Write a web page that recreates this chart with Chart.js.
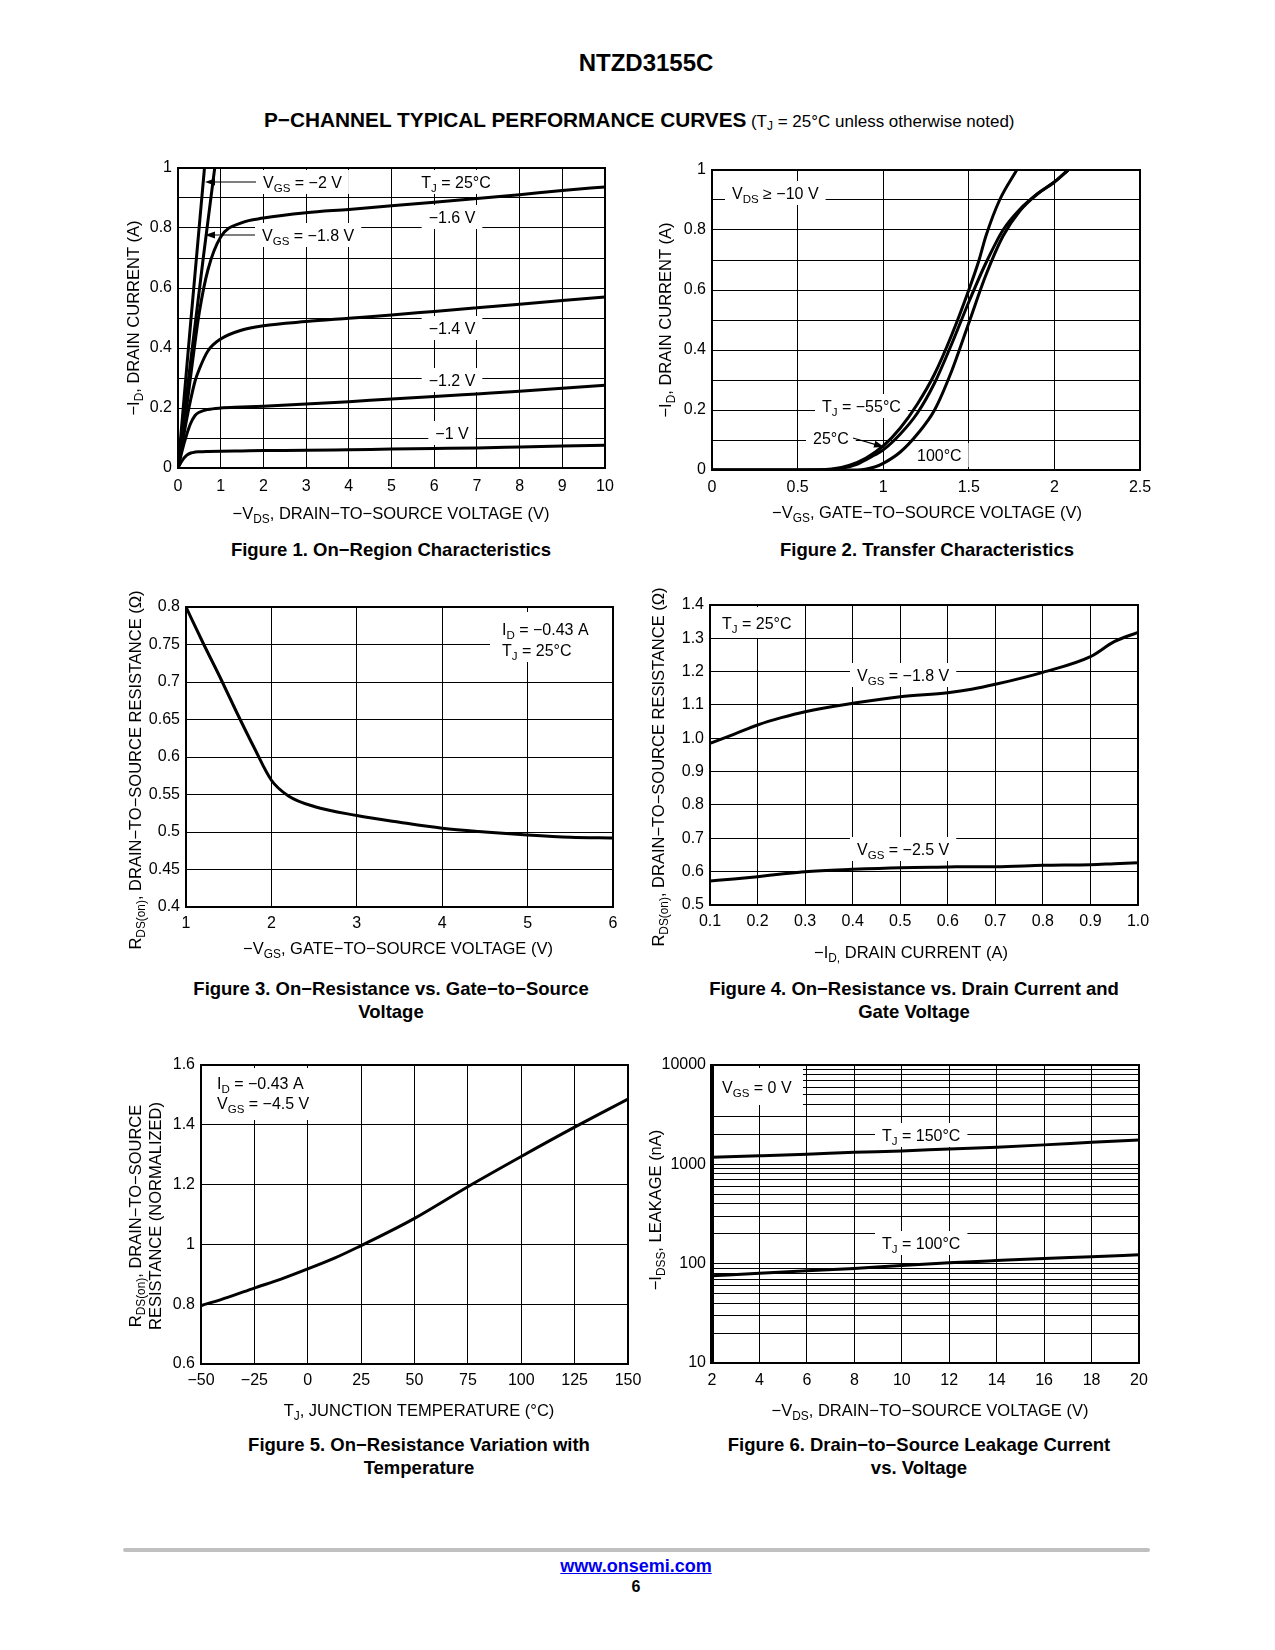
<!DOCTYPE html>
<html>
<head>
<meta charset="utf-8">
<script src="https://cdn.jsdelivr.net/npm/chart.js@4.4.0/dist/chart.umd.min.js"></script>
<style>
body { margin: 0; background: #fff; }
#page { position: relative; width: 1275px; height: 1650px; font-family: "Liberation Sans", Arial, Helvetica, sans-serif; color: #000; overflow: hidden; }
#page canvas { position: absolute; }
.txt { position: absolute; white-space: nowrap; }
.cap { position: absolute; width: 600px; text-align: center; font-weight: bold; font-size: 18.5px; line-height: 23px; }
sub { font-size: 0.7em; vertical-align: -0.25em; line-height: 0; }
</style>
</head>
<body>
<div id="page">
  <div class="txt" style="left:346px;width:600px;text-align:center;top:50px;font-size:24px;font-weight:bold;line-height:26px;">NTZD3155C</div>
  <div class="txt" style="left:264px;top:108px;line-height:24px;"><span style="font-weight:bold;font-size:20.8px;">P−CHANNEL TYPICAL PERFORMANCE CURVES</span> <span style="font-size:17px;">(T<sub>J</sub> = 25°C unless otherwise noted)</span></div>

  <canvas id="fig1"></canvas>
  <canvas id="fig2"></canvas>
  <canvas id="fig3"></canvas>
  <canvas id="fig4"></canvas>
  <canvas id="fig5"></canvas>
  <canvas id="fig6"></canvas>

  <div class="cap" style="left:91px;top:538px;">Figure 1. On−Region Characteristics</div>
  <div class="cap" style="left:627px;top:538px;">Figure 2. Transfer Characteristics</div>
  <div class="cap" style="left:91px;top:977px;">Figure 3. On−Resistance vs. Gate−to−Source<br>Voltage</div>
  <div class="cap" style="left:614px;top:977px;">Figure 4. On−Resistance vs. Drain Current and<br>Gate Voltage</div>
  <div class="cap" style="left:119px;top:1433px;">Figure 5. On−Resistance Variation with<br>Temperature</div>
  <div class="cap" style="left:619px;top:1433px;">Figure 6. Drain−to−Source Leakage Current<br>vs. Voltage</div>

  <div style="position:absolute;left:123px;top:1548px;width:1027px;height:4px;background:#c0c0c0;border-radius:2px;"></div>
  <div class="txt" style="left:336px;width:600px;text-align:center;top:1556px;font-size:18px;font-weight:bold;line-height:20px;"><a href="#" style="color:#0000ee;text-decoration:underline;">www.onsemi.com</a></div>
  <div class="txt" style="left:336px;width:600px;text-align:center;top:1578px;font-size:16px;font-weight:bold;line-height:18px;">6</div>
</div>

<script>
// ---- Figure 1: On-region characteristics (-VDS in V, -ID in A) ----
const fig1Vds = [0, 0.1, 0.2, 0.3, 0.4, 0.5, 0.7, 1, 1.5, 2, 3, 4, 5, 6, 7, 8, 9, 10];
const fig1Id10 = [0, 0.025, 0.042, 0.05, 0.053, 0.054, 0.055, 0.056, 0.057, 0.058, 0.059, 0.061, 0.063, 0.065, 0.067, 0.07, 0.073, 0.076];
const fig1Id12 = [0, 0.06, 0.11, 0.15, 0.175, 0.186, 0.195, 0.2, 0.203, 0.206, 0.213, 0.221, 0.23, 0.238, 0.247, 0.256, 0.266, 0.276];
const fig1Id14 = [0, 0.08, 0.16, 0.23, 0.29, 0.33, 0.39, 0.43, 0.46, 0.474, 0.488, 0.499, 0.51, 0.522, 0.534, 0.546, 0.558, 0.57];
const fig1Id16 = [0, 0.1, 0.2, 0.31, 0.42, 0.52, 0.66, 0.77, 0.818, 0.833, 0.851, 0.862, 0.874, 0.886, 0.898, 0.911, 0.925, 0.937];
const fig1Vds18 = [0, 0.3, 0.6, 0.86];
const fig1Id18 = [0, 0.36, 0.71, 1.0];
const fig1Vds20 = [0, 0.3, 0.62];
const fig1Id20 = [0, 0.49, 1.0];
const fig1XTicks = [0, 1, 2, 3, 4, 5, 6, 7, 8, 9, 10];
const fig1XLabels = ['0', '1', '2', '3', '4', '5', '6', '7', '8', '9', '10'];
const fig1YTicks = [0, 0.1, 0.2, 0.3, 0.4, 0.5, 0.6, 0.7, 0.8, 0.9, 1];
const fig1YLabels = ['0', '', '0.2', '', '0.4', '', '0.6', '', '0.8', '', '1'];

// ---- Figure 2: Transfer characteristics (-VGS in V, -ID in A) ----
const fig2VgsM55 = [0, 0.5, 0.7, 0.8, 0.9, 1.0, 1.1, 1.2, 1.3, 1.4, 1.5, 1.56, 1.6, 1.68, 1.78];
const fig2IdM55 = [0, 0, 0.003, 0.015, 0.04, 0.08, 0.14, 0.22, 0.32, 0.45, 0.6, 0.7, 0.78, 0.9, 1.0];
const fig2Vgs25 = [0, 0.6, 0.75, 0.85, 0.95, 1.0, 1.1, 1.2, 1.3, 1.4, 1.5, 1.6, 1.7, 1.8, 1.9, 2.0, 2.08];
const fig2Id25 = [0, 0, 0.005, 0.02, 0.05, 0.067, 0.12, 0.19, 0.29, 0.42, 0.56, 0.69, 0.8, 0.87, 0.92, 0.96, 1.0];
const fig2Vgs100 = [0, 0.85, 0.95, 1.0, 1.1, 1.2, 1.3, 1.4, 1.5, 1.6, 1.7, 1.8, 1.9, 2.0, 2.08];
const fig2Id100 = [0, 0, 0.01, 0.022, 0.06, 0.12, 0.2, 0.33, 0.49, 0.65, 0.78, 0.865, 0.92, 0.96, 1.0];
const fig2XTicks = [0, 0.5, 1, 1.5, 2, 2.5];
const fig2XLabels = ['0', '0.5', '1', '1.5', '2', '2.5'];

// ---- Figure 3: On-resistance vs gate-to-source voltage ----
const fig3Vgs = [1, 1.2, 1.4, 1.6, 1.8, 2.0, 2.2, 2.5, 3, 3.5, 4, 4.5, 5, 5.5, 6];
const fig3Rds = [0.8, 0.752, 0.706, 0.658, 0.612, 0.569, 0.548, 0.534, 0.522, 0.513, 0.505, 0.5, 0.496, 0.493, 0.492];
const fig3XTicks = [1, 2, 3, 4, 5, 6];
const fig3XLabels = ['1', '2', '3', '4', '5', '6'];
const fig3YTicks = [0.4, 0.45, 0.5, 0.55, 0.6, 0.65, 0.7, 0.75, 0.8];
const fig3YLabels = ['0.4', '0.45', '0.5', '0.55', '0.6', '0.65', '0.7', '0.75', '0.8'];

// ---- Figure 4: On-resistance vs drain current and gate voltage ----
const fig4Id = [0.1, 0.15, 0.2, 0.25, 0.3, 0.4, 0.5, 0.6, 0.65, 0.7, 0.8, 0.9, 0.95, 1.0];
const fig4Rds18 = [0.985, 1.012, 1.04, 1.062, 1.08, 1.105, 1.125, 1.137, 1.147, 1.162, 1.198, 1.245, 1.29, 1.318];
const fig4Rds25 = [0.572, 0.578, 0.585, 0.593, 0.6, 0.607, 0.612, 0.614, 0.615, 0.615, 0.619, 0.621, 0.624, 0.627];
const fig4XTicks = [0.1, 0.2, 0.3, 0.4, 0.5, 0.6, 0.7, 0.8, 0.9, 1.0];
const fig4XLabels = ['0.1', '0.2', '0.3', '0.4', '0.5', '0.6', '0.7', '0.8', '0.9', '1.0'];
const fig4YTicks = [0.5, 0.6, 0.7, 0.8, 0.9, 1.0, 1.1, 1.2, 1.3, 1.4];
const fig4YLabels = ['0.5', '0.6', '0.7', '0.8', '0.9', '1.0', '1.1', '1.2', '1.3', '1.4'];

// ---- Figure 5: On-resistance variation with temperature (normalized) ----
const fig5Tj = [-50, -37.5, -25, -12.5, 0, 12.5, 25, 37.5, 50, 75, 100, 125, 150];
const fig5Rds = [0.795, 0.823, 0.854, 0.884, 0.918, 0.954, 0.996, 1.04, 1.087, 1.193, 1.294, 1.392, 1.486];
const fig5XTicks = [-50, -25, 0, 25, 50, 75, 100, 125, 150];
const fig5XLabels = ['−50', '−25', '0', '25', '50', '75', '100', '125', '150'];
const fig5YTicks = [0.6, 0.8, 1, 1.2, 1.4, 1.6];
const fig5YLabels = ['0.6', '0.8', '1', '1.2', '1.4', '1.6'];

// ---- Figure 6: Drain-to-source leakage current vs voltage (nA) ----
const fig6Vds = [2, 4, 6, 8, 10, 12, 14, 16, 18, 20];
const fig6Idss150 = [1180, 1220, 1265, 1320, 1365, 1430, 1490, 1570, 1665, 1760];
const fig6Idss100 = [75.5, 80, 85, 89.5, 96, 102, 107.5, 113, 117.5, 123];
const fig6XTicks = [2, 4, 6, 8, 10, 12, 14, 16, 18, 20];
const fig6XLabels = ['2', '4', '6', '8', '10', '12', '14', '16', '18', '20'];
const fig6Decades = [10, 100, 1000, 10000];

const FONT = '"Liberation Sans", Arial, Helvetica, sans-serif';
const TICK_SIZE = 16;
const TITLE_SIZE = 16.5;
const NOTE_SIZE = 16;

// log grid: 1..9 x each decade, label only the decades
const fig6YTicks = [];
const fig6YLabels = [];
fig6Decades.forEach((d, i) => {
    const last = i === fig6Decades.length - 1;
    for (let k = 1; k <= (last ? 1 : 9); k++) {
        fig6YTicks.push(d * k);
        fig6YLabels.push(k === 1 ? String(d) : '');
    }
});

// "_{...}" marks a subscript
function richParts(str) {
    const parts = [];
    const re = /_\{([^}]*)\}/g;
    let last = 0, m;
    while ((m = re.exec(str))) {
        if (m.index > last) parts.push({ t: str.slice(last, m.index), sub: false });
        parts.push({ t: m[1], sub: true });
        last = re.lastIndex;
    }
    if (last < str.length) parts.push({ t: str.slice(last), sub: false });
    return parts;
}

function partFont(p, size) {
    return (p.sub ? size * 0.72 : size) + 'px ' + FONT;
}

function richWidth(ctx, str, size) {
    let w = 0;
    richParts(str).forEach(p => { ctx.font = partFont(p, size); w += ctx.measureText(p.t).width; });
    return w;
}

// y is the vertical centre of the capitals
function drawRich(ctx, str, x, y, size, align) {
    const parts = richParts(str);
    const w = richWidth(ctx, str, size);
    let cx = align === 'center' ? x - w / 2 : align === 'right' ? x - w : x;
    const base = y + size * 0.36;
    ctx.textAlign = 'left';
    ctx.textBaseline = 'alphabetic';
    ctx.fillStyle = '#000';
    parts.forEach(p => {
        ctx.font = partFont(p, size);
        ctx.fillText(p.t, cx, p.sub ? base + size * 0.24 : base);
        cx += ctx.measureText(p.t).width;
    });
}

function sheetPlugin(cfg) {
    return {
        id: 'sheet_' + cfg.name,
        beforeDatasetsDraw(chart) {
            const ctx = chart.ctx;
            ctx.save();
            ctx.translate(-cfg.ox, -cfg.oy);
            ctx.fillStyle = '#fff';
            (cfg.boxes || []).forEach(b => ctx.fillRect(b[0], b[1], b[2] - b[0], b[3] - b[1]));
            (cfg.labels || []).forEach(l => {
                if (l.box) {
                    const w = richWidth(ctx, l.t, NOTE_SIZE);
                    const x0 = l.align === 'center' ? l.x - w / 2 : l.x;
                    ctx.fillStyle = '#fff';
                    ctx.fillRect(x0 - 7, l.y - 12, w + 14, 24);
                }
            });
            (cfg.labels || []).forEach(l => drawRich(ctx, l.t, l.x, l.y, NOTE_SIZE, l.align || 'left'));
            ctx.restore();
        },
        afterDatasetsDraw(chart) {
            const ctx = chart.ctx;
            const a = chart.chartArea;
            ctx.save();
            ctx.strokeStyle = '#000';
            ctx.lineWidth = 2;
            ctx.strokeRect(a.left, a.top, a.right - a.left, a.bottom - a.top);
            if (cfg.thickLeft) {
                ctx.lineWidth = 4;
                ctx.beginPath();
                ctx.moveTo(a.left, a.top - 1);
                ctx.lineTo(a.left, a.bottom + 1);
                ctx.stroke();
            }
            ctx.translate(-cfg.ox, -cfg.oy);
            ctx.fillStyle = '#000';
            ctx.lineWidth = 1.2;
            (cfg.arrows || []).forEach(ar => {
                const [x1, y1] = ar.from, [x2, y2] = ar.to;
                const ang = Math.atan2(y2 - y1, x2 - x1);
                ctx.beginPath();
                ctx.moveTo(x1, y1);
                ctx.lineTo(x2 - Math.cos(ang) * 6, y2 - Math.sin(ang) * 6);
                ctx.stroke();
                ctx.beginPath();
                ctx.moveTo(x2, y2);
                ctx.lineTo(x2 - Math.cos(ang) * 10 + Math.sin(ang) * 3.5, y2 - Math.sin(ang) * 10 - Math.cos(ang) * 3.5);
                ctx.lineTo(x2 - Math.cos(ang) * 10 - Math.sin(ang) * 3.5, y2 - Math.sin(ang) * 10 + Math.cos(ang) * 3.5);
                ctx.closePath();
                ctx.fill();
            });
            ctx.restore();
        },
        afterDraw(chart) {
            const ctx = chart.ctx;
            ctx.save();
            ctx.translate(-cfg.ox, -cfg.oy);
            const xt = cfg.xTitle;
            drawRich(ctx, xt.t, xt.x, xt.y, TITLE_SIZE, 'center');
            cfg.yTitles.forEach(yt => {
                ctx.save();
                ctx.translate(yt.x, yt.y);
                ctx.rotate(-Math.PI / 2);
                drawRich(ctx, yt.t, 0, 0, TITLE_SIZE, 'center');
                ctx.restore();
            });
            ctx.restore();
        }
    };
}

function points(xs, ys) {
    return xs.map((x, i) => ({ x: x, y: ys[i] }));
}

function curve(xs, ys) {
    return {
        data: points(xs, ys),
        showLine: true,
        borderColor: '#000',
        borderWidth: 3,
        pointRadius: 0,
        fill: false,
        cubicInterpolationMode: 'monotone'
    };
}

function axis(o) {
    return {
        type: o.type || 'linear',
        min: o.min,
        max: o.max,
        afterBuildTicks: s => { s.ticks = o.ticks.map(v => ({ value: v })); },
        afterFit: s => { if (s.isHorizontal()) s.height = o.size; else s.width = o.size; },
        grid: { color: '#000', lineWidth: 1, drawTicks: false },
        border: { display: false },
        ticks: {
            color: '#000',
            font: { family: FONT, size: TICK_SIZE },
            padding: o.pad,
            autoSkip: false,
            maxRotation: 0,
            minRotation: 0,
            callback: (v, i) => o.labels[i]
        }
    };
}

function makeChart(id, box, plot, datasets, xAxis, yAxis, sheet) {
    const canvas = document.getElementById(id);
    canvas.width = box.w;
    canvas.height = box.h;
    canvas.style.left = box.x + 'px';
    canvas.style.top = box.y + 'px';
    xAxis.size = box.y + box.h - plot.b;
    yAxis.size = plot.l - box.x;
    sheet.name = id;
    sheet.ox = box.x;
    sheet.oy = box.y;
    return new Chart(canvas, {
        type: 'scatter',
        data: { datasets: datasets },
        options: {
            responsive: false,
            animation: false,
            events: [],
            layout: { padding: { top: plot.t - box.y, right: box.x + box.w - plot.r, left: 0, bottom: 0 } },
            plugins: { legend: { display: false }, tooltip: { enabled: false } },
            scales: { x: axis(xAxis), y: axis(yAxis) }
        },
        plugins: [sheetPlugin(sheet)]
    });
}

makeChart('fig1',
    { x: 115, y: 145, w: 530, h: 390 },
    { l: 178, t: 168, r: 605, b: 468 },
    [
        curve(fig1Vds, fig1Id10), curve(fig1Vds, fig1Id12), curve(fig1Vds, fig1Id14),
        curve(fig1Vds, fig1Id16), curve(fig1Vds18, fig1Id18), curve(fig1Vds20, fig1Id20)
    ],
    { min: 0, max: 10, ticks: fig1XTicks, labels: fig1XLabels, pad: 9 },
    { min: 0, max: 1, ticks: fig1YTicks, labels: fig1YLabels, pad: 6 },
    {
        labels: [
            { t: 'V_{GS} = −2 V', x: 263, y: 182, box: true },
            { t: 'V_{GS} = −1.8 V', x: 262, y: 235, box: true },
            { t: 'T_{J} = 25°C', x: 456, y: 182, align: 'center', box: true },
            { t: '−1.6 V', x: 452, y: 217, align: 'center', box: true },
            { t: '−1.4 V', x: 452, y: 328, align: 'center', box: true },
            { t: '−1.2 V', x: 452, y: 380, align: 'center', box: true },
            { t: '−1 V', x: 452, y: 433, align: 'center', box: true }
        ],
        arrows: [
            { from: [256, 182], to: [205, 182] },
            { from: [255, 235], to: [205, 235] }
        ],
        xTitle: { t: '−V_{DS}, DRAIN−TO−SOURCE VOLTAGE (V)', x: 391, y: 513 },
        yTitles: [{ t: '−I_{D}, DRAIN CURRENT (A)', x: 133, y: 318 }]
    });

makeChart('fig2',
    { x: 650, y: 145, w: 530, h: 390 },
    { l: 712, t: 170, r: 1140, b: 470 },
    [curve(fig2VgsM55, fig2IdM55), curve(fig2Vgs25, fig2Id25), curve(fig2Vgs100, fig2Id100)],
    { min: 0, max: 2.5, ticks: fig2XTicks, labels: fig2XLabels, pad: 8 },
    { min: 0, max: 1, ticks: fig1YTicks, labels: fig1YLabels, pad: 6 },
    {
        labels: [
            { t: 'V_{DS} ≥ −10 V', x: 732, y: 193, box: true },
            { t: 'T_{J} = −55°C', x: 822, y: 406, box: true },
            { t: '25°C', x: 813, y: 438, box: true },
            { t: '100°C', x: 917, y: 455, box: true }
        ],
        arrows: [{ from: [853, 438], to: [884, 447] }],
        xTitle: { t: '−V_{GS}, GATE−TO−SOURCE VOLTAGE (V)', x: 927, y: 512 },
        yTitles: [{ t: '−I_{D}, DRAIN CURRENT (A)', x: 665, y: 320 }]
    });

makeChart('fig3',
    { x: 115, y: 580, w: 540, h: 385 },
    { l: 186, t: 607, r: 613, b: 907 },
    [curve(fig3Vgs, fig3Rds)],
    { min: 1, max: 6, ticks: fig3XTicks, labels: fig3XLabels, pad: 7 },
    { min: 0.4, max: 0.8, ticks: fig3YTicks, labels: fig3YLabels, pad: 6 },
    {
        boxes: [[490, 612, 612, 662]],
        labels: [
            { t: 'I_{D} = −0.43 A', x: 502, y: 629 },
            { t: 'T_{J} = 25°C', x: 502, y: 650 }
        ],
        xTitle: { t: '−V_{GS}, GATE−TO−SOURCE VOLTAGE (V)', x: 398, y: 948 },
        yTitles: [{ t: 'R_{DS(on)}, DRAIN−TO−SOURCE RESISTANCE (Ω)', x: 135, y: 770 }]
    });

makeChart('fig4',
    { x: 640, y: 575, w: 540, h: 390 },
    { l: 710, t: 605, r: 1138, b: 905 },
    [curve(fig4Id, fig4Rds18), curve(fig4Id, fig4Rds25)],
    { min: 0.1, max: 1.0, ticks: fig4XTicks, labels: fig4XLabels, pad: 7 },
    { min: 0.5, max: 1.4, ticks: fig4YTicks, labels: fig4YLabels, pad: 6 },
    {
        boxes: [[712, 607, 803, 638]],
        labels: [
            { t: 'T_{J} = 25°C', x: 722, y: 623 },
            { t: 'V_{GS} = −1.8 V', x: 857, y: 675, box: true },
            { t: 'V_{GS} = −2.5 V', x: 857, y: 849, box: true }
        ],
        xTitle: { t: '−I_{D,} DRAIN CURRENT (A)', x: 911, y: 952 },
        yTitles: [{ t: 'R_{DS(on)}, DRAIN−TO−SOURCE RESISTANCE (Ω)', x: 658, y: 767 }]
    });

makeChart('fig5',
    { x: 115, y: 1040, w: 535, h: 390 },
    { l: 201, t: 1065, r: 628, b: 1364 },
    [curve(fig5Tj, fig5Rds)],
    { min: -50, max: 150, ticks: fig5XTicks, labels: fig5XLabels, pad: 7 },
    { min: 0.6, max: 1.6, ticks: fig5YTicks, labels: fig5YLabels, pad: 6 },
    {
        boxes: [[205, 1068, 320, 1120]],
        labels: [
            { t: 'I_{D} = −0.43 A', x: 217, y: 1083 },
            { t: 'V_{GS} = −4.5 V', x: 217, y: 1103 }
        ],
        xTitle: { t: 'T_{J}, JUNCTION TEMPERATURE (°C)', x: 419, y: 1410 },
        yTitles: [
            { t: 'R_{DS(on)}, DRAIN−TO−SOURCE', x: 135, y: 1216 },
            { t: 'RESISTANCE (NORMALIZED)', x: 155, y: 1216 }
        ]
    });

makeChart('fig6',
    { x: 645, y: 1040, w: 535, h: 390 },
    { l: 712, t: 1065, r: 1139, b: 1363 },
    [curve(fig6Vds, fig6Idss150), curve(fig6Vds, fig6Idss100)],
    { min: 2, max: 20, ticks: fig6XTicks, labels: fig6XLabels, pad: 8 },
    { type: 'logarithmic', min: 10, max: 10000, ticks: fig6YTicks, labels: fig6YLabels, pad: 6 },
    {
        thickLeft: true,
        boxes: [[713, 1068, 803, 1105]],
        labels: [
            { t: 'V_{GS} = 0 V', x: 722, y: 1087 },
            { t: 'T_{J} = 150°C', x: 882, y: 1135, box: true },
            { t: 'T_{J} = 100°C', x: 882, y: 1243, box: true }
        ],
        xTitle: { t: '−V_{DS}, DRAIN−TO−SOURCE VOLTAGE (V)', x: 930, y: 1410 },
        yTitles: [{ t: '−I_{DSS}, LEAKAGE (nA)', x: 655, y: 1210 }]
    });
</script>
</body>
</html>
